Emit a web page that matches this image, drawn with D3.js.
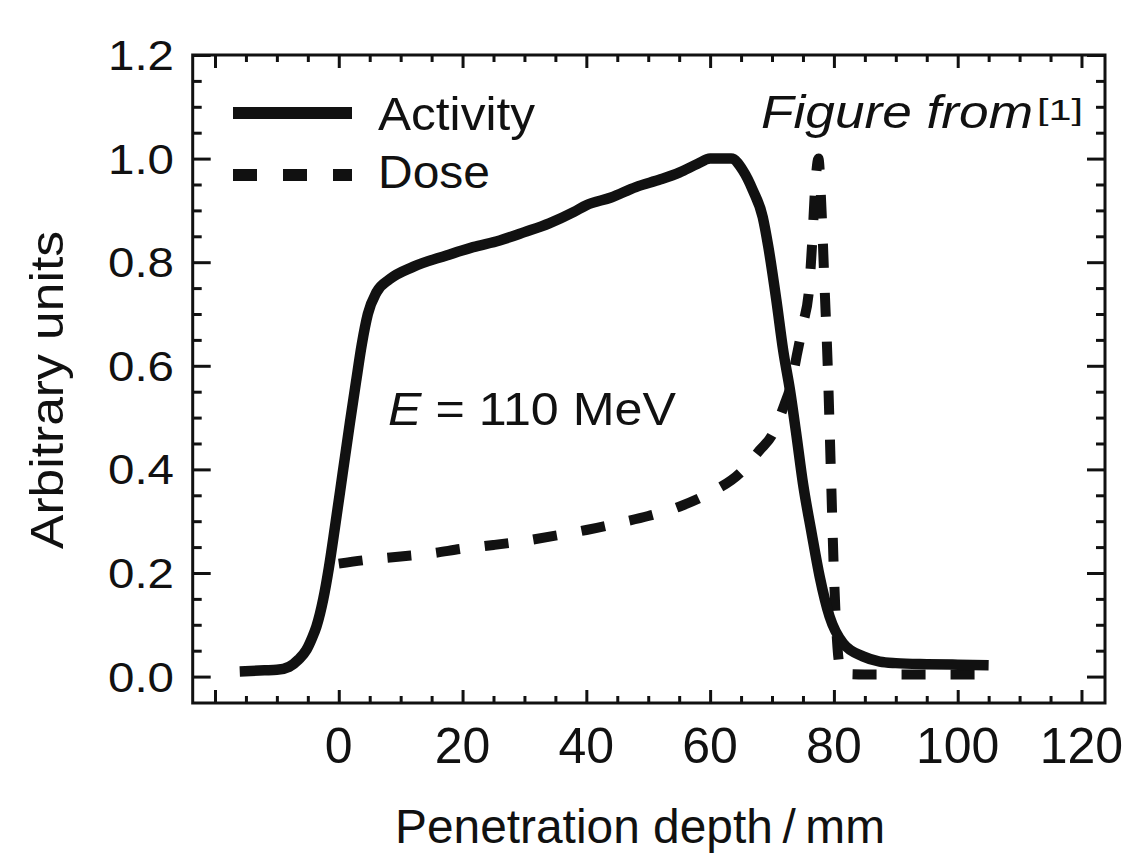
<!DOCTYPE html>
<html><head><meta charset="utf-8">
<script src="https://cdn.jsdelivr.net/npm/d3@7"></script>
<style>
body{margin:0;background:#fff}
svg{display:block}
text{font-family:"Liberation Sans",Arial,Helvetica,sans-serif;fill:#111}
</style>
</head><body>
<svg id="c" width="1124" height="855"></svg>
<script>
// ---- data ----
const activityX = [-16,-12,-10,-8,-6.5,-5.2,-4.3,-3.6,-2.5,-1.6,-0.6,0.6,1.8,2.8,3.7,4.7,6.1,8.2,12,17.4,21.7,26,30,34,38,40,44,48,52,55,58,60,63.4,65.3,66.9,68.5,69.4,70.7,71.8,72.9,73.9,75,76.4,77.7,79.3,81.5,84.7,87.4,90,95,100,105];
const activityY = [0.010,0.012,0.013,0.019,0.033,0.052,0.075,0.097,0.150,0.210,0.290,0.390,0.490,0.570,0.640,0.700,0.742,0.767,0.791,0.813,0.829,0.842,0.858,0.875,0.897,0.910,0.925,0.945,0.960,0.973,0.990,1.000,1.000,0.977,0.939,0.887,0.830,0.727,0.630,0.553,0.470,0.373,0.277,0.193,0.116,0.064,0.039,0.029,0.026,0.024,0.023,0.022];
const doseX = [0,5,10,15,20,25,30,35,40,45,50,55,60,65,68,70,72,73,74,75,76,76.5,77,77.5,78,78.5,79,79.5,80,80.5,81,81.5,85,90,95,100,105];
const doseY = [0.218,0.226,0.232,0.238,0.247,0.254,0.262,0.272,0.283,0.296,0.310,0.328,0.355,0.395,0.437,0.466,0.525,0.560,0.620,0.680,0.750,0.840,0.950,1.000,0.900,0.750,0.600,0.400,0.200,0.070,0.015,0.005,0.004,0.004,0.004,0.004,0.004];
const seriesNames = ["Activity","Dose"];
const xTickLabels = [0,20,40,60,80,100,120];
const xMajorTicks = [-20,0,20,40,60,80,100,120];
const xMinorTicks = [-15,-10,-5,5,10,15,25,30,35,45,50,55,65,70,75,85,90,95,105,110,115];
const yTickLabels = [0,0.2,0.4,0.6,0.8,1.0,1.2];
const yMinorTicks = [0.05,0.1,0.15,0.25,0.3,0.35,0.45,0.5,0.55,0.65,0.7,0.75,0.85,0.9,0.95,1.05,1.1,1.15];
const annotation = "110 MeV";

// ---- layout ----
const svg = d3.select("#c");
const L=192.7, R=1105, T=55, B=703;
const x = d3.scaleLinear().domain([-23.6,123.8]).range([L,R]);
const y = d3.scaleLinear().domain([-0.051,1.2]).range([B,T]);
const ink = "#111";

// ticks (all inward, on all four sides)
function tickAxis(axisFn, scale, values, size, tx, ty){
  const g = svg.append("g").attr("transform",`translate(${tx},${ty})`)
    .call(axisFn(scale).tickValues(values).tickSize(-size).tickFormat(""));
  g.select(".domain").remove();
  g.selectAll(".tick line").attr("stroke",ink).attr("stroke-width",3);
}
tickAxis(d3.axisBottom, x, xMajorTicks, 13, 0, B);
tickAxis(d3.axisBottom, x, xMinorTicks, 7, 0, B);
tickAxis(d3.axisTop, x, xMajorTicks, 13, 0, T);
tickAxis(d3.axisTop, x, xMinorTicks, 7, 0, T);
tickAxis(d3.axisLeft, y, yTickLabels, 18, L, 0);
tickAxis(d3.axisLeft, y, yMinorTicks, 9, L, 0);
tickAxis(d3.axisRight, y, yTickLabels, 18, R, 0);
tickAxis(d3.axisRight, y, yMinorTicks, 9, R, 0);

// frame
svg.append("rect").attr("x",L).attr("y",T).attr("width",R-L).attr("height",B-T)
  .attr("fill","none").attr("stroke",ink).attr("stroke-width",3);

// tick labels
svg.append("g").selectAll("text").data(xTickLabels).join("text")
  .attr("x",d=>x(d)).attr("y",763).attr("text-anchor","middle")
  .attr("font-size",50).text(d=>d3.format("d")(d));
svg.append("g").selectAll("text").data(yTickLabels).join("text")
  .attr("x",174).attr("y",d=>y(d)+15).attr("text-anchor","end")
  .attr("font-size",43).attr("textLength",66).attr("lengthAdjust","spacingAndGlyphs")
  .text(d=>d3.format(".1f")(d));

// axis titles
svg.append("text").attr("x",640).attr("y",843).attr("text-anchor","middle")
  .attr("font-size",48).attr("textLength",490).attr("lengthAdjust","spacingAndGlyphs")
  .text("Penetration depth\u2009/\u2009mm");
svg.append("text").attr("transform","translate(63,390) rotate(-90)").attr("text-anchor","middle")
  .attr("font-size",47).attr("textLength",318).attr("lengthAdjust","spacingAndGlyphs")
  .text("Arbitrary units");

// curves
const line = d3.line().x(d=>x(d[0])).y(d=>y(d[1])).curve(d3.curveMonotoneX);
const act = activityX.map((v,i)=>[v,activityY[i]]);
const dose = doseX.map((v,i)=>[v,doseY[i]]);
svg.append("path").datum(dose).attr("d",line).attr("fill","none").attr("stroke",ink)
  .attr("stroke-width",10).attr("stroke-dasharray","24,25");
svg.append("path").datum(act).attr("d",line).attr("fill","none").attr("stroke",ink)
  .attr("stroke-width",10.5).attr("stroke-linejoin","round").attr("stroke-linecap","butt");

// legend
const lg = svg.append("g");
lg.append("line").attr("x1",233).attr("x2",352).attr("y1",113).attr("y2",113)
  .attr("stroke",ink).attr("stroke-width",12);
lg.append("line").attr("x1",233).attr("x2",352).attr("y1",175).attr("y2",175)
  .attr("stroke",ink).attr("stroke-width",12).attr("stroke-dasharray","24,26");
lg.append("text").attr("x",378).attr("y",130).attr("font-size",47)
  .attr("textLength",157).attr("lengthAdjust","spacingAndGlyphs").text(seriesNames[0]);
lg.append("text").attr("x",378).attr("y",188).attr("font-size",47)
  .attr("textLength",112).attr("lengthAdjust","spacingAndGlyphs").text(seriesNames[1]);

// annotations
const e = svg.append("text").attr("x",388).attr("y",425).attr("font-size",47)
  .attr("textLength",288).attr("lengthAdjust","spacingAndGlyphs");
e.append("tspan").attr("font-style","italic").text("E");
e.append("tspan").text(" = " + annotation);

svg.append("text").attr("x",761).attr("y",128).attr("font-size",46).attr("font-style","italic")
  .attr("textLength",272).attr("lengthAdjust","spacingAndGlyphs").text("Figure from");
svg.append("text").attr("x",1037).attr("y",120).attr("font-size",30)
  .attr("textLength",46).attr("lengthAdjust","spacingAndGlyphs").text("[1]");
</script>
</body></html>
